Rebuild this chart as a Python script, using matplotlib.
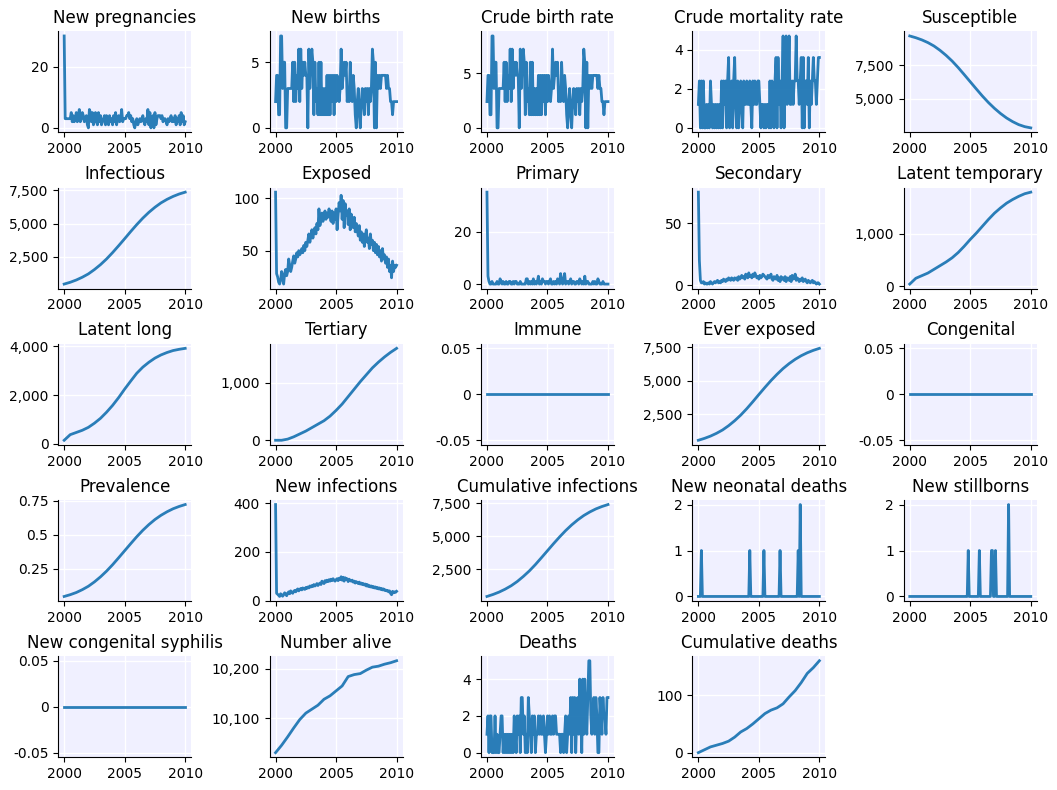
import numpy as np
import matplotlib
matplotlib.use("Agg")
from matplotlib import pyplot as plt
from matplotlib import ticker as mticker


# Monthly time points, Jan 2000 to Jan 2010
n_months = 121
# Smooth results are read every six months
half_years = [2000 + 0.5 * i for i in range(21)]

new_pregnancies = [
    30, 3, 3, 3, 3, 3, 3, 5, 2, 4, 2, 3,
    5, 2, 4, 6, 2, 3, 5, 4, 2, 3, 4, 1,
    0, 6, 5, 2, 5, 1, 3, 5, 2, 1, 5, 2,
    4, 1, 2, 3, 4, 1, 4, 2, 1, 4, 2, 3,
    1, 4, 2, 5, 1, 3, 4, 2, 3, 6, 2, 3,
    3, 3, 4, 4, 5, 3, 4, 2, 3, 1, 0, 2,
    3, 1, 2, 3, 2, 3, 4, 2, 1, 3, 2, 6,
    1, 5, 0, 3, 4, 0, 5, 1, 3, 4, 4, 4,
    3, 4, 2, 3, 3, 2, 1, 3, 2, 3, 4, 2,
    3, 2, 4, 1, 3, 2, 4, 1, 5, 2, 4, 1,
    2]

new_births = [
    2, 4, 4, 1, 1, 7, 7, 3, 5, 5, 0, 0,
    3, 3, 3, 3, 3, 5, 2, 5, 2, 4, 3, 6,
    2, 6, 3, 5, 4, 5, 4, 4, 0, 6, 3, 5,
    6, 5, 1, 5, 2, 3, 1, 5, 1, 5, 1, 3,
    1, 3, 1, 4, 1, 4, 1, 4, 2, 4, 1, 4,
    2, 4, 3, 2, 3, 6, 3, 4, 5, 4, 5, 2,
    3, 2, 5, 3, 2, 4, 3, 1, 0, 2, 3, 1,
    0, 2, 3, 2, 1, 3, 2, 3, 1, 3, 2, 3,
    6, 5, 0, 5, 0, 4, 3, 4, 3, 4, 4, 4,
    4, 4, 3, 4, 3, 3, 2, 2, 1, 2, 2, 2,
    2]

crude_birth_rate = [
    2.4, 4.8, 4.8, 1.2, 1.2, 8.4, 8.4, 3.6, 6.0, 6.0, 0.0, 0.0,
    3.6, 3.6, 3.6, 3.6, 3.6, 6.0, 2.4, 6.0, 2.4, 4.8, 3.6, 7.2,
    2.4, 7.2, 3.6, 6.0, 4.8, 6.0, 4.8, 4.8, 0.0, 7.2, 3.6, 6.0,
    7.2, 6.0, 1.2, 6.0, 2.4, 3.6, 1.2, 6.0, 1.2, 6.0, 1.2, 3.6,
    1.2, 3.6, 1.2, 4.8, 1.2, 4.8, 1.2, 4.8, 2.4, 4.8, 1.2, 4.8,
    2.4, 4.8, 3.6, 2.4, 3.6, 7.2, 3.6, 4.8, 6.0, 4.8, 6.0, 2.4,
    3.6, 2.4, 6.0, 3.6, 2.4, 4.8, 3.6, 1.2, 0.0, 2.4, 3.6, 1.2,
    0.0, 2.4, 3.6, 2.4, 1.2, 3.6, 2.4, 3.6, 1.2, 3.6, 2.4, 3.6,
    7.2, 6.0, 0.0, 6.0, 0.0, 4.8, 3.6, 4.8, 3.6, 4.8, 4.8, 4.8,
    4.8, 4.8, 3.6, 4.8, 3.6, 3.6, 2.4, 2.4, 1.2, 2.4, 2.4, 2.4,
    2.4]

crude_mortality_rate = [
    1.2, 2.4, 0.0, 2.4, 0.0, 2.4, 0.0, 0.0, 1.2, 0.0, 1.2, 0.0,
    2.4, 1.2, 0.0, 1.2, 0.0, 1.2, 0.0, 1.2, 0.0, 1.2, 0.0, 2.4,
    0.0, 2.4, 1.2, 2.4, 0.0, 2.4, 3.6, 0.0, 1.2, 2.4, 0.0, 2.4,
    3.6, 1.2, 0.0, 2.4, 0.0, 1.2, 2.4, 1.2, 0.0, 2.4, 1.2, 1.2,
    2.4, 1.2, 1.2, 2.4, 1.2, 0.0, 2.4, 1.2, 2.4, 1.2, 1.2, 2.4,
    2.4, 1.2, 0.0, 1.2, 1.2, 0.0, 1.2, 0.0, 1.2, 1.2, 0.0, 2.4,
    0.0, 2.4, 1.2, 0.0, 2.4, 3.6, 0.0, 3.6, 1.2, 2.4, 0.0, 2.4,
    4.7, 0.0, 2.4, 4.7, 1.2, 2.4, 4.7, 1.2, 1.2, 2.4, 1.2, 2.4,
    2.4, 4.7, 2.4, 2.4, 1.2, 2.4, 3.6, 0.0, 3.6, 0.0, 2.4, 2.4,
    1.2, 3.6, 0.0, 2.4, 1.2, 2.4, 3.6, 2.4, 2.4, 1.2, 2.4, 3.6,
    3.6]

susceptible = [9650, 9520, 9360, 9160, 8910, 8590, 8220, 7800, 7320, 6800, 6270,
               5740, 5220, 4740, 4310, 3930, 3600, 3330, 3110, 2960, 2870]

infectious = [460, 595, 765, 975, 1225, 1550, 1920, 2345, 2825, 3340, 3870,
              4410, 4930, 5415, 5850, 6230, 6560, 6825, 7045, 7225, 7365]

exposed = [
    106, 28, 25, 20, 18, 22, 30, 24, 18, 28, 32, 26,
    30, 42, 36, 30, 34, 40, 45, 38, 42, 48, 44, 50,
    46, 48, 52, 48, 55, 50, 58, 54, 60, 66, 58, 64,
    70, 62, 68, 72, 66, 76, 70, 90, 74, 80, 86, 78,
    84, 88, 80, 86, 82, 90, 84, 78, 88, 76, 86, 80,
    90, 70, 84, 96, 88, 103, 80, 98, 72, 95, 84, 88,
    75, 90, 70, 85, 78, 72, 82, 68, 76, 70, 64, 74,
    60, 68, 58, 66, 54, 64, 70, 58, 62, 52, 66, 56,
    60, 50, 58, 48, 56, 46, 54, 44, 50, 40, 52, 42,
    46, 38, 44, 34, 42, 30, 36, 24, 40, 30, 36, 34,
    36]

primary = [
    35, 3, 1, 0, 0, 1, 0, 0, 0, 0, 1, 0,
    0, 2, 1, 0, 1, 0, 0, 1, 0, 0, 1, 1,
    0, 0, 1, 0, 1, 1, 0, 0, 0, 1, 0, 0,
    0, 0, 0, 2, 2, 0, 1, 0, 1, 0, 2, 0,
    1, 0, 1, 3, 0, 1, 0, 2, 1, 1, 0, 1,
    1, 0, 1, 2, 0, 0, 1, 0, 1, 0, 2, 1,
    0, 4, 1, 0, 2, 4, 0, 1, 1, 0, 1, 2,
    0, 1, 1, 0, 0, 1, 1, 0, 2, 1, 0, 1,
    0, 3, 0, 1, 1, 0, 0, 0, 0, 1, 0, 1,
    0, 0, 2, 1, 0, 0, 0, 1, 0, 0, 0, 0,
    0]

secondary = [
    75, 20, 4, 2, 2, 3, 1, 2, 1, 1, 2, 1,
    3, 2, 1, 2, 3, 2, 3, 4, 2, 3, 2, 4,
    3, 5, 4, 3, 5, 4, 6, 5, 4, 6, 5, 4,
    6, 5, 6, 4, 7, 5, 6, 8, 6, 7, 5, 9,
    7, 6, 10, 7, 8, 6, 9, 7, 10, 8, 6, 7,
    5, 8, 6, 7, 9, 8, 7, 6, 5, 8, 6, 7,
    9, 5, 4, 7, 6, 5, 8, 4, 6, 3, 7, 5,
    6, 4, 7, 3, 6, 5, 4, 7, 3, 8, 5, 6,
    9, 4, 6, 5, 3, 5, 4, 6, 3, 4, 5, 3,
    2, 4, 3, 2, 3, 4, 2, 3, 2, 1, 2, 2,
    1]

latent_temporary = [40, 150, 200, 250, 320, 390, 460, 540, 640, 760, 890,
                     1010, 1140, 1270, 1390, 1490, 1580, 1650, 1710, 1760, 1790]

latent_long = [150, 380, 470, 560, 680, 850, 1050, 1300, 1580, 1900, 2250,
               2580, 2900, 3150, 3350, 3520, 3650, 3750, 3830, 3880, 3920]

tertiary = [0, 0, 20, 60, 110, 160, 220, 280, 340, 420, 520,
            630, 760, 890, 1020, 1140, 1260, 1360, 1450, 1530, 1600]

ever_exposed = [560, 700, 870, 1080, 1330, 1650, 2020, 2440, 2920, 3440, 3980,
                4510, 5020, 5490, 5920, 6290, 6610, 6880, 7100, 7280, 7430]

prevalence = [0.046, 0.059, 0.075, 0.096, 0.121, 0.153, 0.190, 0.232, 0.279, 0.330, 0.382,
              0.434, 0.485, 0.532, 0.574, 0.611, 0.642, 0.668, 0.690, 0.707, 0.721]

new_infections = [
    395, 30, 26, 22, 17, 28, 24, 18, 24, 32, 28, 20,
    30, 36, 28, 40, 34, 30, 38, 42, 36, 44, 48, 40,
    46, 50, 44, 52, 48, 46, 54, 50, 56, 52, 60, 56,
    62, 58, 66, 60, 64, 70, 62, 68, 72, 66, 80, 74,
    70, 82, 76, 84, 78, 86, 80, 88, 82, 90, 84, 80,
    86, 90, 82, 92, 86, 98, 84, 96, 80, 94, 86, 90,
    78, 88, 82, 80, 84, 76, 80, 72, 78, 74, 70, 76,
    68, 72, 66, 70, 64, 68, 60, 66, 58, 62, 56, 60,
    54, 58, 52, 56, 50, 54, 48, 52, 46, 50, 44, 48,
    42, 44, 40, 42, 36, 40, 30, 24, 38, 32, 36, 34,
    38]

cum_infections = [450, 600, 780, 1000, 1260, 1580, 1960, 2380, 2860, 3380, 3910,
                  4440, 4950, 5430, 5860, 6240, 6570, 6840, 7070, 7250, 7400]

# Rare events: month index and count
neonatal_months = [3, 51, 65, 81, 99, 101]
neonatal_counts = [1, 1, 1, 1, 1, 2]
stillborn_months = [58, 69, 81, 82, 85, 98]
stillborn_counts = [1, 1, 1, 1, 1, 2]

n_alive = [10030, 10045, 10062, 10080, 10097, 10110, 10118, 10126, 10138, 10145, 10155,
           10165, 10184, 10188, 10190, 10197, 10203, 10205, 10209, 10212, 10216]

deaths = [
    1, 2, 0, 2, 2, 0, 0, 0, 2, 0, 1, 0,
    0, 1, 2, 2, 0, 1, 0, 1, 0, 1, 0, 1,
    0, 1, 0, 2, 1, 0, 2, 1, 2, 0, 3, 3,
    1, 2, 0, 1, 0, 3, 2, 1, 0, 2, 1, 2,
    0, 1, 1, 2, 1, 2, 1, 1, 2, 1, 0, 1,
    2, 1, 2, 1, 1, 2, 1, 2, 2, 1, 1, 1,
    1, 0, 1, 1, 0, 1, 2, 0, 1, 2, 1, 3,
    0, 3, 1, 3, 0, 2, 3, 1, 4, 2, 0, 4,
    1, 4, 2, 1, 3, 5, 5, 2, 1, 2, 3, 1,
    3, 2, 0, 0, 3, 2, 1, 3, 2, 2, 1, 3,
    3]

cum_deaths = [0, 5, 10, 13, 16, 20, 27, 36, 42, 50, 59,
              68, 74, 78, 85, 97, 108, 122, 138, 148, 160]


def events_to_series(months, counts):
    series = np.zeros(n_months)
    series[months] = counts
    return series


def monthly(values):
    return np.linspace(2000, 2010, len(values)), values


def semi_annual(values):
    return half_years, values


def build_panels():
    zeros = np.zeros(n_months)
    return [
        ("New pregnancies", monthly(new_pregnancies)),
        ("New births", monthly(new_births)),
        ("Crude birth rate", monthly(crude_birth_rate)),
        ("Crude mortality rate", monthly(crude_mortality_rate)),
        ("Susceptible", semi_annual(susceptible)),
        ("Infectious", semi_annual(infectious)),
        ("Exposed", monthly(exposed)),
        ("Primary", monthly(primary)),
        ("Secondary", monthly(secondary)),
        ("Latent temporary", semi_annual(latent_temporary)),
        ("Latent long", semi_annual(latent_long)),
        ("Tertiary", semi_annual(tertiary)),
        ("Immune", monthly(zeros)),
        ("Ever exposed", semi_annual(ever_exposed)),
        ("Congenital", monthly(zeros)),
        ("Prevalence", semi_annual(prevalence)),
        ("New infections", monthly(new_infections)),
        ("Cumulative infections", semi_annual(cum_infections)),
        ("New neonatal deaths", monthly(events_to_series(neonatal_months, neonatal_counts))),
        ("New stillborns", monthly(events_to_series(stillborn_months, stillborn_counts))),
        ("New congenital syphilis", monthly(zeros)),
        ("Number alive", semi_annual(n_alive)),
        ("Deaths", monthly(deaths)),
        ("Cumulative deaths", semi_annual(cum_deaths)),
    ]


def draw_chart(panels):
    fig, axes = plt.subplots(5, 5, figsize=(10.57, 7.9), dpi=100)
    fmt = mticker.FuncFormatter(lambda v, p: "{:,g}".format(v))
    for ax, (title, (x, y)) in zip(axes.flat, panels):
        ax.set_facecolor("#f0f0ff")
        ax.grid(True, color="white", linewidth=1)
        ax.set_axisbelow(True)
        ax.plot(x, y, color="#1f77b4", linewidth=2, alpha=0.95)
        ax.set_title(title)
        ax.spines["top"].set_visible(False)
        ax.spines["right"].set_visible(False)
        ax.set_xticks([2000, 2005, 2010])
        ax.yaxis.set_major_formatter(fmt)
    for ax in axes.flat[len(panels):]:
        ax.set_visible(False)
    fig.tight_layout(pad=0.65)
    fig.savefig("out.png", dpi=100)


if __name__ == "__main__":
    draw_chart(build_panels())
